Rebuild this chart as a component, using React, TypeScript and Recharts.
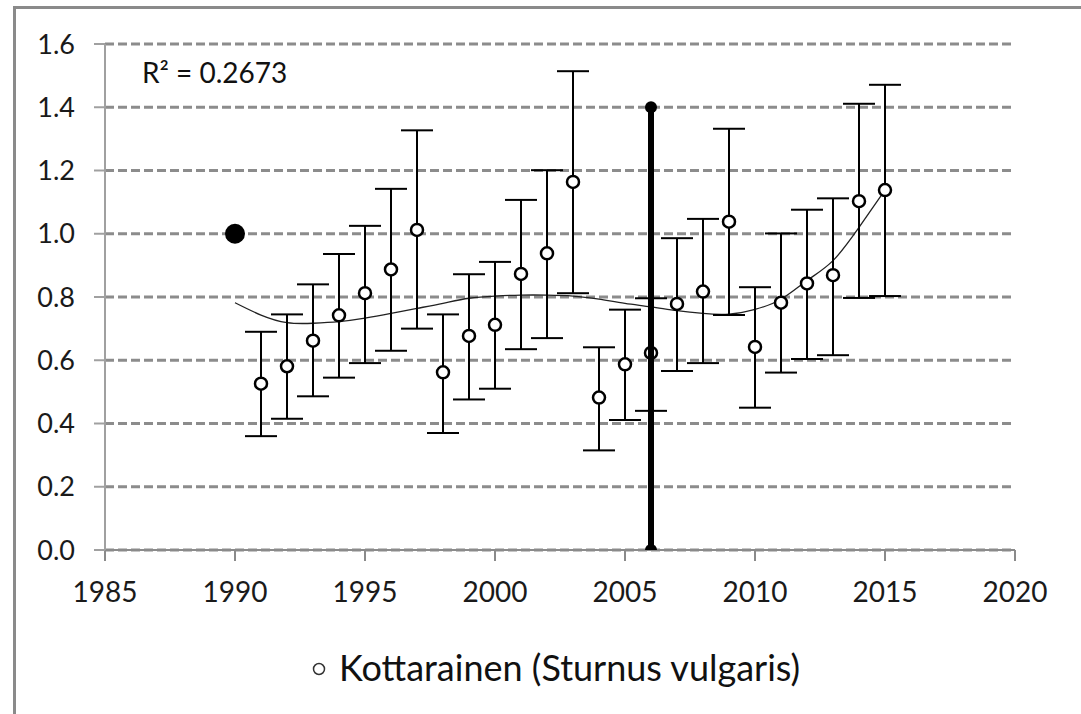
import {
  CartesianGrid,
  ComposedChart,
  ErrorBar,
  Legend,
  Line,
  Scatter,
  XAxis,
  YAxis
} from "recharts";

// index values per year with confidence limits
const years = [1991, 1992, 1993, 1994, 1995, 1996, 1997, 1998, 1999, 2000, 2001, 2002, 2003, 2004, 2005, 2006, 2007, 2008, 2009, 2010, 2011, 2012, 2013, 2014, 2015];
const index = [0.526, 0.581, 0.662, 0.742, 0.812, 0.887, 1.012, 0.562, 0.677, 0.712, 0.873, 0.938, 1.164, 0.482, 0.587, 0.623, 0.778, 0.817, 1.038, 0.642, 0.782, 0.843, 0.869, 1.103, 1.138];
const upper = [0.690, 0.745, 0.840, 0.936, 1.025, 1.142, 1.327, 0.745, 0.872, 0.911, 1.107, 1.201, 1.514, 0.641, 0.760, 0.796, 0.986, 1.047, 1.332, 0.831, 1.001, 1.076, 1.112, 1.411, 1.471];
const lower = [0.360, 0.415, 0.486, 0.545, 0.591, 0.630, 0.700, 0.370, 0.476, 0.510, 0.635, 0.670, 0.812, 0.315, 0.411, 0.440, 0.566, 0.591, 0.743, 0.450, 0.561, 0.604, 0.616, 0.797, 0.803];

// base year
const baseYear = [1990];
const baseValue = [1.0];

// polynomial trend
const trendYears = [1990, 1991, 1992, 1993, 1994, 1995, 1996, 1997, 1998, 1999, 2000, 2001, 2002, 2003, 2004, 2005, 2006, 2007, 2008, 2009, 2010, 2011, 2012, 2013, 2014, 2015];
const trendValues = [0.782, 0.743, 0.719, 0.717, 0.722, 0.733, 0.748, 0.764, 0.780, 0.796, 0.803, 0.806, 0.806, 0.803, 0.793, 0.780, 0.769, 0.757, 0.748, 0.746, 0.761, 0.793, 0.852, 0.915, 1.020, 1.138];

// vertical marker
const markerYears = [2006, 2006];
const markerValues = [0, 1.4];

const xTicks = [1985, 1990, 1995, 2000, 2005, 2010, 2015, 2020];
const yTicks = [0, 0.2, 0.4, 0.6, 0.8, 1.0, 1.2, 1.4, 1.6];

const seriesName = "Kottarainen (Sturnus vulgaris)";
const r2Label = "R² = 0.2673";

const mainData = years.map((y, i) => ({
  year: y,
  value: index[i],
  err: [+(index[i] - lower[i]).toFixed(3), +(upper[i] - index[i]).toFixed(3)]
}));
const baseData = baseYear.map((y, i) => ({ year: y, value: baseValue[i] }));
const trendData = trendYears.map((y, i) => ({ year: y, trend: trendValues[i] }));
const markerData = markerYears.map((y, i) => ({ year: y, value: markerValues[i] }));

const FONT = "Lato, 'Open Sans', sans-serif";

const OpenDot = (props: any) => (
  <circle cx={props.cx} cy={props.cy} r={6} fill="#fff" stroke="#000" strokeWidth={2.5} />
);
const BaseDot = (props: any) => (
  <circle cx={props.cx} cy={props.cy} r={10} fill="#000" />
);
const MarkerDot = (props: any) => (
  <circle cx={props.cx} cy={props.cy} r={6} fill="#000" />
);

const LegendContent = () => (
  <div style={{ display: "flex", alignItems: "center", fontFamily: FONT, fontSize: 36, lineHeight: "44px", color: "#111" }}>
    <svg width={20} height={20} style={{ marginRight: 9, marginTop: 4 }}>
      <circle cx={9} cy={10} r={5.5} fill="none" stroke="#333" strokeWidth={1.5} />
    </svg>
    <span>{seriesName}</span>
  </div>
);

const App = () => {
  return (
    <div style={{ position: "fixed", left: 0, top: 0, width: 1081, height: 714, overflow: "hidden", background: "#fff" }}>
      <div
        style={{
          position: "absolute",
          left: 13,
          top: 6,
          width: 1200,
          height: 800,
          border: "3px solid #8a8a8a"
        }}
      />
      <div
        style={{
          position: "absolute",
          left: 142,
          top: 55,
          fontFamily: FONT,
          fontSize: 28,
          lineHeight: "34px",
          color: "#111"
        }}
      >
        {r2Label}
      </div>
      <div style={{ position: "absolute", left: 0, top: 0 }}>
        <ComposedChart
          width={1081}
          height={714}
          margin={{ top: 44, right: 66, bottom: 124, left: 10 }}
        >
          <CartesianGrid
            horizontal
            vertical={false}
            stroke="#8c8c8c"
            strokeWidth={3}
            strokeDasharray="9 4"
          />
          <XAxis
            dataKey="year"
            type="number"
            domain={[1985, 2020]}
            ticks={xTicks}
            height={40}
            tickSize={11}
            tickMargin={21}
            axisLine={{ stroke: "#8a8a8a", strokeWidth: 2 }}
            tickLine={{ stroke: "#8a8a8a", strokeWidth: 2 }}
            tick={{ fill: "#1a1a1a", fontSize: 28, fontFamily: FONT }}
            allowDuplicatedCategory={false}
          />
          <YAxis
            type="number"
            domain={[0, 1.6]}
            ticks={yTicks}
            width={95}
            tickSize={11}
            tickMargin={19}
            allowDataOverflow
            tickFormatter={(v: number) => v.toFixed(1)}
            axisLine={{ stroke: "#a0a0a0", strokeWidth: 2 }}
            tickLine={{ stroke: "#a0a0a0", strokeWidth: 2 }}
            tick={{ fill: "#1a1a1a", fontSize: 27, fontFamily: FONT }}
          />
          <Line
            data={trendData}
            dataKey="trend"
            type="natural"
            dot={false}
            stroke="#222"
            strokeWidth={1.3}
            isAnimationActive={false}
            legendType="none"
          />
          <Scatter
            name={seriesName}
            data={mainData}
            dataKey="value"
            shape={OpenDot}
            isAnimationActive={false}
          >
            <ErrorBar dataKey="err" direction="y" width={16} stroke="#000" strokeWidth={2} />
          </Scatter>
          <Scatter
            data={baseData}
            dataKey="value"
            shape={BaseDot}
            isAnimationActive={false}
            legendType="none"
          />
          <Scatter
            data={markerData}
            dataKey="value"
            shape={MarkerDot}
            line={{ stroke: "#000", strokeWidth: 6 }}
            isAnimationActive={false}
            legendType="none"
          />
          <Legend
            layout="horizontal"
            verticalAlign="middle"
            align="center"
            content={LegendContent}
            wrapperStyle={{ position: "absolute", left: 310, top: 645, width: "auto" }}
          />
        </ComposedChart>
      </div>
    </div>
  );
};

export default App;
